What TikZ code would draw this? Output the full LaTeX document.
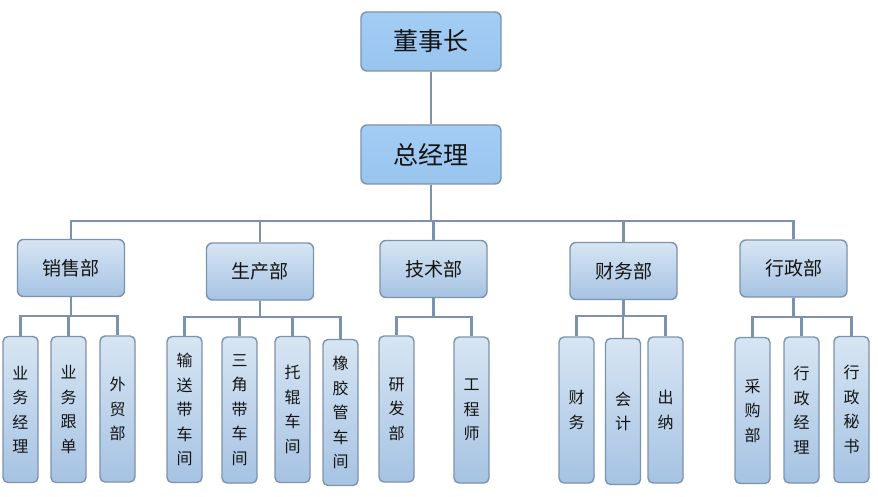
\documentclass[tikz,border=0pt]{standalone}
\usepackage{fontspec}
\newfontfamily\cjk{Noto Sans CJK SC}
\definecolor{bordc}{HTML}{7D93AB}
\definecolor{linec}{HTML}{7A92AB}
\definecolor{topfill}{HTML}{A3CDF5}
\definecolor{topfillb}{HTML}{98C4EE}
\definecolor{lightc}{HTML}{D7E5F3}
\definecolor{darkc}{HTML}{A6C3E3}
\definecolor{txt}{HTML}{141414}
\tikzset{
  basebox/.style={draw=bordc, line width=1.4pt, rounded corners=6pt, text=txt, inner sep=0pt},
  topbox/.style={basebox, top color=topfill, bottom color=topfillb, minimum width=140pt, minimum height=59pt,
    font=\cjk\fontsize{25}{29}\selectfont},
  deptbox/.style={basebox, top color=lightc, bottom color=darkc, minimum width=107pt, minimum height=57pt,
    font=\cjk\fontsize{19}{23}\selectfont},
  leafbox/.style={basebox, rounded corners=5pt, top color=lightc, bottom color=darkc, minimum width=35pt, minimum height=146pt,
    align=center, font=\cjk\fontsize{16}{24.5}\selectfont},
  conn/.style={draw=linec, line width=2.1pt}
}
\begin{document}
\begin{tikzpicture}[x=1pt,y=-1pt]
\useasboundingbox[fill=white] (0,0) rectangle (878,497);
% top
\node[topbox] (dsz) at (431,41.5) {董事长};
\node[topbox] (zjl) at (431,154.5) {总经理};
% departments
\node[deptbox] (xs) at (71,268) {销售部};
\node[deptbox] (sc) at (260,271.5) {生产部};
\node[deptbox] (js) at (433.5,269) {技术部};
\node[deptbox] (cw) at (623.5,271) {财务部};
\node[deptbox] (xz) at (793.5,268.5) {行政部};
% leaves
\node[leafbox] (l1) at (20.5,409.5) {业\\务\\经\\理};
\node[leafbox] (l2) at (68.5,409.5) {业\\务\\跟\\单};
\node[leafbox] (l3) at (117.5,409) {外\\贸\\部};
\node[leafbox] (l4) at (184.5,409.5) {输\\送\\带\\车\\间};
\node[leafbox] (l5) at (239.5,410) {三\\角\\带\\车\\间};
\node[leafbox] (l6) at (292.5,409.5) {托\\辊\\车\\间};
\node[leafbox] (l7) at (340.5,412.5) {橡\\胶\\管\\车\\间};
\node[leafbox] (l8) at (396.5,409) {研\\发\\部};
\node[leafbox] (l9) at (471.5,410) {工\\程\\师};
\node[leafbox] (l10) at (576.5,410) {财\\务};
\node[leafbox] (l11) at (623,411.5) {会\\计};
\node[leafbox] (l12) at (665.5,410) {出\\纳};
\node[leafbox] (l13) at (752.5,410.5) {采\\购\\部};
\node[leafbox] (l14) at (801.5,410) {行\\政\\经\\理};
\node[leafbox] (l15) at (851.5,409.5) {行\\政\\秘\\书};
% connectors
\draw[conn] (dsz.south) -- (zjl.north);
\foreach \c in {xs,sc,js,cw,xz}
  \draw[conn] (zjl.south) -- (zjl.south |- 0,221) -| (\c.north);
\foreach \c in {l1,l2,l3}
  \draw[conn] (xs.south) -- (xs.south |- 0,316) -| (\c.north);
\foreach \c in {l4,l5,l6,l7}
  \draw[conn] (sc.south) -- (sc.south |- 0,317) -| (\c.north);
\foreach \c in {l8,l9}
  \draw[conn] (js.south) -- (js.south |- 0,317) -| (\c.north);
\foreach \c in {l10,l11,l12}
  \draw[conn] (cw.south) -- (cw.south |- 0,316) -| (\c.north);
\foreach \c in {l13,l14,l15}
  \draw[conn] (xz.south) -- (xz.south |- 0,317) -| (\c.north);
\end{tikzpicture}
\end{document}
